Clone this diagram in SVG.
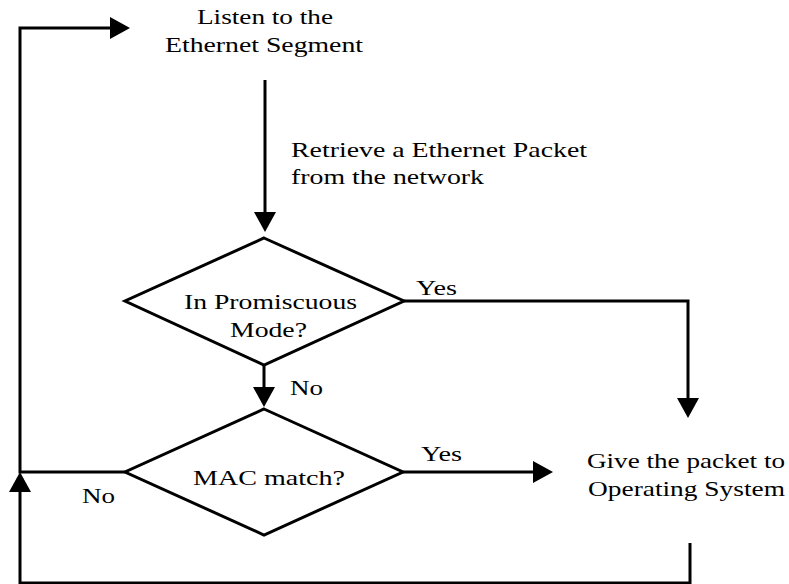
<svg xmlns="http://www.w3.org/2000/svg" width="789" height="584" viewBox="0 0 789 584">
<style>
text{font-family:"Liberation Serif","Times New Roman",serif;font-size:21px;fill:#000}
.shape{fill:none;stroke:#000;stroke-width:3}
.conn{fill:none;stroke:#000;stroke-width:3}
</style>
<defs>
<marker id="ah" markerUnits="userSpaceOnUse" markerWidth="20" markerHeight="22" refX="14" refY="11" orient="auto">
<path d="M0,0 L20,11 L0,22 z" fill="#000"/>
</marker>
</defs>
<rect width="789" height="584" fill="#fff"/>
<g id="connectors">
<path class="conn" d="M690,543 V583 H20 V478" marker-end="url(#ah)"/>
<path class="conn" d="M125,472 H20 V28 H124" marker-end="url(#ah)"/>
<path class="conn" d="M265,80 V226" marker-end="url(#ah)"/>
<path class="conn" d="M404,301 H688 V412" marker-end="url(#ah)"/>
<path class="conn" d="M264,365 V401" marker-end="url(#ah)"/>
<path class="conn" d="M403,472 H547" marker-end="url(#ah)"/>
<text x="416" y="295" textLength="41" lengthAdjust="spacingAndGlyphs">Yes</text>
<text x="290" y="395" textLength="33" lengthAdjust="spacingAndGlyphs">No</text>
<text x="421" y="461" textLength="41" lengthAdjust="spacingAndGlyphs">Yes</text>
<text x="82" y="503" textLength="33" lengthAdjust="spacingAndGlyphs">No</text>
<text x="291" y="157" textLength="296" lengthAdjust="spacingAndGlyphs">Retrieve a Ethernet Packet</text>
<text x="291" y="184" textLength="193" lengthAdjust="spacingAndGlyphs">from the network</text>
</g>
<g id="listen">
<text x="197" y="24" textLength="136" lengthAdjust="spacingAndGlyphs">Listen to the</text>
<text x="165" y="52" textLength="198" lengthAdjust="spacingAndGlyphs">Ethernet Segment</text>
</g>
<g id="promiscuous">
<polygon class="shape" points="264,238 404,301 264,365 125,301"/>
<text x="184" y="309" textLength="173" lengthAdjust="spacingAndGlyphs">In Promiscuous</text>
<text x="230" y="337" textLength="77" lengthAdjust="spacingAndGlyphs">Mode?</text>
</g>
<g id="macmatch">
<polygon class="shape" points="264,409 403,472 264,535 125,472"/>
<text x="193" y="485" textLength="152" lengthAdjust="spacingAndGlyphs">MAC match?</text>
</g>
<g id="giveos">
<text x="587" y="468" textLength="198" lengthAdjust="spacingAndGlyphs">Give the packet to</text>
<text x="588" y="496" textLength="197" lengthAdjust="spacingAndGlyphs">Operating System</text>
</g>
</svg>
